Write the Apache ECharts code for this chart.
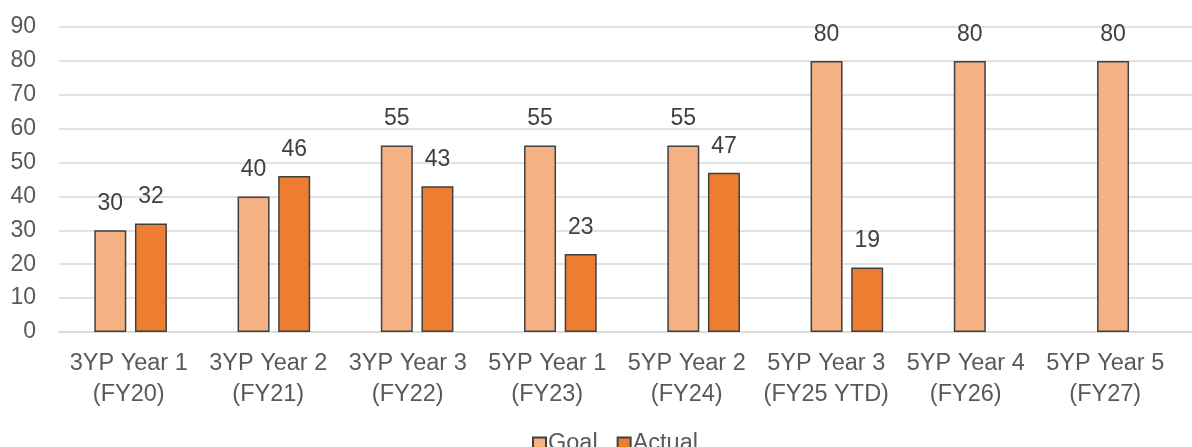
<!DOCTYPE html>
<html>
<head>
<meta charset="utf-8">
<script src="https://cdn.jsdelivr.net/npm/echarts@6/dist/echarts.min.js"></script>
<style>
html,body{margin:0;padding:0;background:#fff;}
#chart{width:1192px;height:447px;}
</style>
</head>
<body>
<div id="chart"></div>
<script>
var categories = [
  "3YP Year 1\n(FY20)", "3YP Year 2\n(FY21)", "3YP Year 3\n(FY22)", "5YP Year 1\n(FY23)",
  "5YP Year 2\n(FY24)", "5YP Year 3\n(FY25 YTD)", "5YP Year 4\n(FY26)", "5YP Year 5\n(FY27)"
];
var goalValues = [30, 40, 55, 55, 55, 80, 80, 80];
var actualValues = [32, 46, 43, 23, 47, 19, null, null];
var yTicks = [0, 10, 20, 30, 40, 50, 60, 70, 80, 90];

var FONT = '"Liberation Sans", Arial, sans-serif';
var chart = echarts.init(document.getElementById('chart'), null, {renderer: 'canvas'});
var labelStyle = {
  show: true, position: 'top', distance: 15,
  color: '#404040', fontSize: 23, fontFamily: FONT
};
chart.setOption({
  animation: false,
  backgroundColor: '#ffffff',
  textStyle: {fontFamily: FONT},
  grid: [
    {left: 59, width: 1146, top: 27, bottom: 115, containLabel: false, outerBoundsMode: 'none'},
    {left: 59, width: 1116, top: 27, bottom: 115, containLabel: false, outerBoundsMode: 'none'}
  ],
  legend: {
    left: 527, top: 427,
    itemWidth: 13, itemHeight: 13, itemGap: 19,
    icon: 'rect',
    textStyle: {color: '#595959', fontSize: 23.5, fontFamily: FONT, padding: [0, 0, 0, -3]},
    data: ['Goal', 'Actual']
  },
  xAxis: [
    {
      type: 'category', gridIndex: 0,
      data: categories,
      axisLine: {show: true, lineStyle: {color: '#d9d9d9', width: 1.5}},
      axisTick: {show: false},
      axisLabel: {show: false}
    },
    {
      type: 'category', gridIndex: 1,
      data: categories,
      axisLine: {show: false},
      axisTick: {show: false},
      splitLine: {show: false},
      axisLabel: {color: '#595959', fontSize: 23.5, fontFamily: FONT, lineHeight: 31, margin: 16, interval: 0}
    }
  ],
  yAxis: [
    {
      type: 'value', gridIndex: 0,
      min: yTicks[0], max: yTicks[yTicks.length - 1], interval: 10,
      axisLine: {show: false},
      axisTick: {show: false},
      splitLine: {show: true, lineStyle: {color: '#d9d9d9', width: 1.5}},
      axisLabel: {color: '#595959', fontSize: 23, fontFamily: FONT, margin: 23}
    },
    {
      type: 'value', gridIndex: 1,
      min: yTicks[0], max: yTicks[yTicks.length - 1], interval: 10,
      show: false
    }
  ],
  series: [
    {
      name: 'Goal', type: 'bar', data: goalValues,
      xAxisIndex: 0, yAxisIndex: 0,
      barWidth: 32, barGap: '27%',
      itemStyle: {color: '#F4B183', borderColor: '#404040', borderWidth: 1.5},
      label: labelStyle
    },
    {
      name: 'Actual', type: 'bar', data: actualValues,
      xAxisIndex: 0, yAxisIndex: 0,
      barWidth: 32,
      itemStyle: {color: '#ED7D31', borderColor: '#404040', borderWidth: 1.5},
      label: labelStyle
    }
  ]
});
</script>
</body>
</html>
